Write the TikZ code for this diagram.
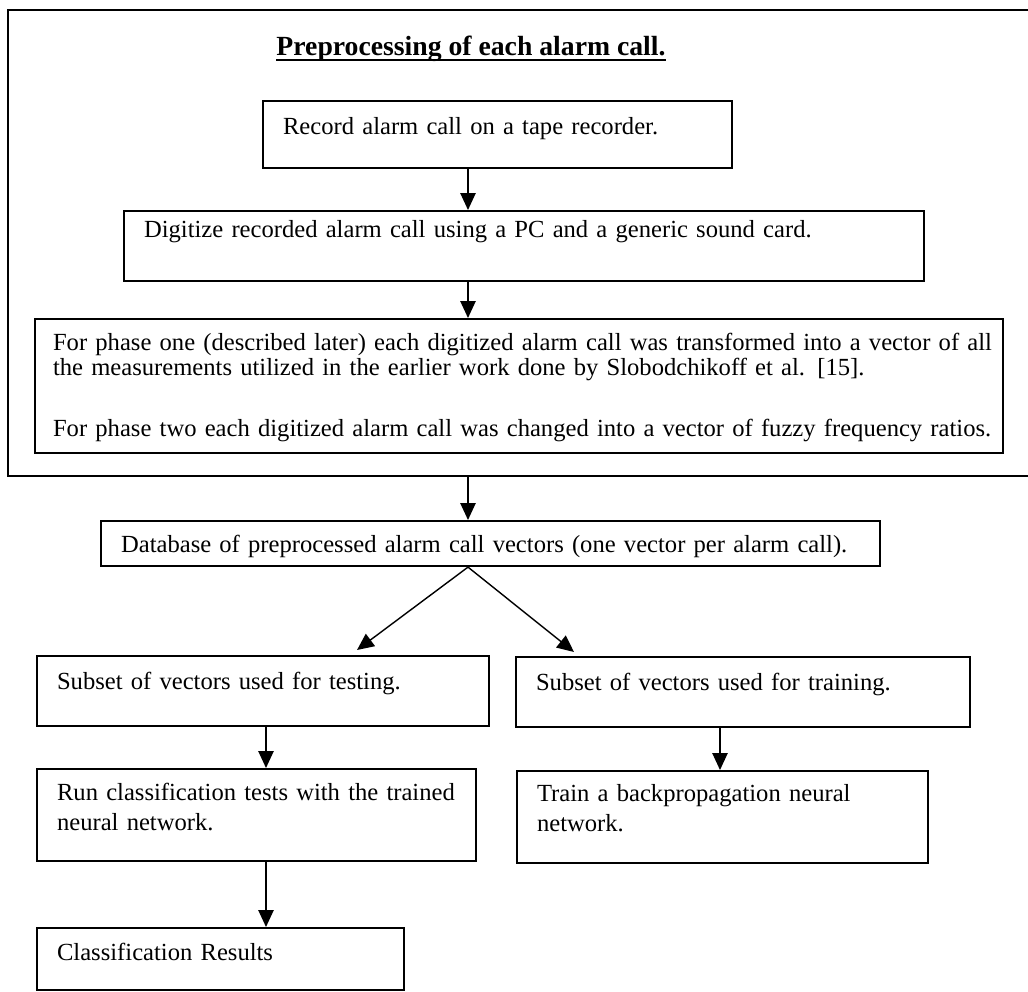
\documentclass[tikz,border=0pt]{standalone}
\usepackage{fontspec}
\setmainfont{Liberation Serif}
\usetikzlibrary{arrows.meta,positioning}
\begin{document}
\begin{tikzpicture}
[x=0.025cm, y=-0.025cm, font=\fontsize{17.5}{18.4}\selectfont,
 stage/.style={draw, line width=1.5pt, anchor=north west, inner xsep=0.5cm, inner ysep=0pt, align=left},
 flow/.style={-{Triangle[length=0.42cm,width=0.38cm]}, line width=1pt}]
\useasboundingbox (0,0) rectangle (1028,992);
\coordinate (spine) at (468,0);
\coordinate (lcol) at (266,0);
\coordinate (rcol) at (720,0);
\coordinate (lsplit) at (357,0);
\coordinate (rsplit) at (574,0);
% preprocessing frame, open on the right
\draw[line width=1.6pt] (1040,10) -- (8,10) -- (8,476) -- (1040,476);
\coordinate (framebot) at (468,476);
\node[inner sep=0pt, anchor=base, font=\fontsize{19.7}{22}\selectfont\bfseries] (title) at (471,56) {Preprocessing of each alarm call.};
\draw[line width=1.4pt] ([yshift=-3pt]title.base west) -- ([yshift=-3pt]title.base east);
\node[stage, text width=10.725cm, text height=0.825cm, text depth=0.85cm] (rec) at (262,100)
  {Record alarm call on a tape recorder.};
\node[stage, text width=19cm, text height=0.65cm, text depth=1.1cm] (dig) at (123,210)
  {Digitize recorded alarm call using a PC and a generic sound card.};
\node[stage, inner xsep=0.45cm, text width=23.3cm, text height=0.775cm, text depth=2.575cm] (phase) at (34,318)
  {\mbox{For phase one (described later) each digitized alarm call was transformed into a vector of all}\\
   the measurements utilized in the earlier work done by Slobodchikoff et al. [15].\\[0.875cm]
   \mbox{For phase two each digitized alarm call was changed into a vector of fuzzy frequency ratios.}};
% after preprocessing
\node[stage, text width=18.475cm, text height=0.775cm, text depth=0.35cm] (db) at (100,520)
  {Database of preprocessed alarm call vectors (one vector per alarm call).};
\node[stage, text width=10.3cm, text height=0.825cm, text depth=0.925cm] (test) at (36,655)
  {Subset of vectors used for testing.};
\node[stage, text width=10.35cm, text height=0.825cm, text depth=0.925cm] (train) at (515,656)
  {Subset of vectors used for training.};
\node[stage, text width=9.975cm, text height=0.775cm, text depth=1.525cm] (run) at (36,768)
  {\mbox{Run classification tests with the trained}\\[0.125cm] neural network.};
\node[stage, text width=9.275cm, text height=0.75cm, text depth=1.55cm] (bp) at (516,770)
  {Train a backpropagation neural\\[0.125cm] network.};
\node[stage, text width=8.175cm, text height=0.8cm, text depth=0.75cm] (res) at (36,927)
  {Classification Results};
\draw[flow] (rec.south -| spine) -- (dig.north -| spine);
\draw[flow] (dig.south -| spine) -- (phase.north -| spine);
\draw[flow] (framebot) -- (db.north -| spine);
\draw[flow] (db.south -| spine) -- ([yshift=0.125cm]test.north -| lsplit);
\draw[flow] (db.south -| spine) -- ([yshift=0.1cm]train.north -| rsplit);
\draw[flow] (test.south -| lcol) -- (run.north -| lcol);
\draw[flow] (train.south -| rcol) -- (bp.north -| rcol);
\draw[flow] (run.south -| lcol) -- (res.north -| lcol);
\end{tikzpicture}
\end{document}
